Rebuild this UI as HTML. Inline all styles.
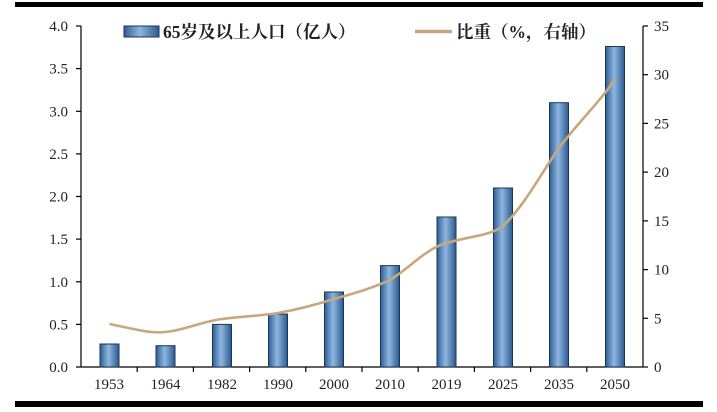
<!DOCTYPE html>
<html><head><meta charset="utf-8"><style>
html,body{margin:0;padding:0;background:#fff;width:717px;height:412px;overflow:hidden}
text{font-family:"Liberation Serif","Noto Serif CJK SC",serif;fill:#222}
</style></head><body>
<svg width="717" height="412" viewBox="0 0 717 412" xmlns="http://www.w3.org/2000/svg">
<defs>
<linearGradient id="bg" x1="0" x2="1" y1="0" y2="0">
<stop offset="0" stop-color="#2f5f96"/><stop offset="0.45" stop-color="#8db6e0"/><stop offset="1" stop-color="#2c5a8f"/>
</linearGradient>
</defs>
<rect x="15" y="2" width="688" height="5" fill="#000"/>
<rect x="15" y="401" width="688" height="6" fill="#000"/>
<g stroke="#000" stroke-width="1.2" fill="none">
<line x1="81" y1="26" x2="81" y2="367"/>
<line x1="643" y1="26" x2="643" y2="367"/>
<line x1="81" y1="367" x2="643" y2="367"/>
<line x1="76" y1="26" x2="81" y2="26"/><line x1="76" y1="68.6" x2="81" y2="68.6"/><line x1="76" y1="111.3" x2="81" y2="111.3"/><line x1="76" y1="153.9" x2="81" y2="153.9"/><line x1="76" y1="196.5" x2="81" y2="196.5"/><line x1="76" y1="239.1" x2="81" y2="239.1"/><line x1="76" y1="281.8" x2="81" y2="281.8"/><line x1="76" y1="324.4" x2="81" y2="324.4"/><line x1="76" y1="367" x2="81" y2="367"/>
<line x1="643" y1="26" x2="648" y2="26"/><line x1="643" y1="74.7" x2="648" y2="74.7"/><line x1="643" y1="123.4" x2="648" y2="123.4"/><line x1="643" y1="172.1" x2="648" y2="172.1"/><line x1="643" y1="220.9" x2="648" y2="220.9"/><line x1="643" y1="269.6" x2="648" y2="269.6"/><line x1="643" y1="318.3" x2="648" y2="318.3"/><line x1="643" y1="367" x2="648" y2="367"/>
<line x1="137.2" y1="367" x2="137.2" y2="372"/><line x1="193.4" y1="367" x2="193.4" y2="372"/><line x1="249.6" y1="367" x2="249.6" y2="372"/><line x1="305.8" y1="367" x2="305.8" y2="372"/><line x1="362" y1="367" x2="362" y2="372"/><line x1="418.2" y1="367" x2="418.2" y2="372"/><line x1="474.4" y1="367" x2="474.4" y2="372"/><line x1="530.6" y1="367" x2="530.6" y2="372"/><line x1="586.8" y1="367" x2="586.8" y2="372"/>
</g>
<g font-size="15" text-anchor="end">
<text x="68" y="31">4.0</text><text x="68" y="73.6">3.5</text><text x="68" y="116.3">3.0</text><text x="68" y="158.9">2.5</text><text x="68" y="201.5">2.0</text><text x="68" y="244.1">1.5</text><text x="68" y="286.8">1.0</text><text x="68" y="329.4">0.5</text><text x="68" y="372">0.0</text>
</g>
<g font-size="15" text-anchor="start">
<text x="654" y="31">35</text><text x="654" y="79.7">30</text><text x="654" y="128.4">25</text><text x="654" y="177.1">20</text><text x="654" y="225.9">15</text><text x="654" y="274.6">10</text><text x="654" y="323.3">5</text><text x="654" y="372">0</text>
</g>
<g font-size="15" text-anchor="middle">
<text x="109" y="389">1953</text><text x="165.5" y="389">1964</text><text x="222" y="389">1982</text><text x="278" y="389">1990</text><text x="334" y="389">2000</text><text x="390" y="389">2010</text><text x="446.5" y="389">2019</text><text x="503" y="389">2025</text><text x="559" y="389">2035</text><text x="615" y="389">2050</text>
</g>
<g fill="url(#bg)" stroke="#1c3556" stroke-width="1">
<rect x="100" y="344" width="19" height="23"/>
<rect x="156" y="345.7" width="19" height="21.3"/>
<rect x="212.5" y="324.4" width="19" height="42.6"/>
<rect x="268.5" y="314.1" width="19" height="52.9"/>
<rect x="324.5" y="292" width="19" height="75"/>
<rect x="380.5" y="265.6" width="19" height="101.4"/>
<rect x="437" y="217" width="19" height="150"/>
<rect x="493.5" y="188" width="19" height="179"/>
<rect x="549.5" y="102.7" width="19" height="264.3"/>
<rect x="605.5" y="46.5" width="19" height="320.5"/>
</g>
<path d="M109.5,324 C130,328 150,334 165.5,332 C185,330 200,322 222,319 C245,316 260,316 278,313 C300,309 315,305 334,299 C355,293 370,289 390,280 C410,268 425,249 446.5,243 C470,236 490,236 503,226 C525,205 540,175 559,148 C580,120 600,102 615,79" fill="none" stroke="#c8a77c" stroke-width="2.6"/>
<rect x="124" y="26" width="35" height="11" fill="url(#bg)" stroke="#1c3556" stroke-width="1"/>
<text x="163" y="38" font-size="17.5" font-weight="bold">65岁及以上人口（亿人）</text>
<line x1="415" y1="31.5" x2="452" y2="31.5" stroke="#c8a77c" stroke-width="3.5"/>
<text x="456" y="38" font-size="17.5" font-weight="bold">比重（%，右轴）</text>
</svg>
</body></html>
